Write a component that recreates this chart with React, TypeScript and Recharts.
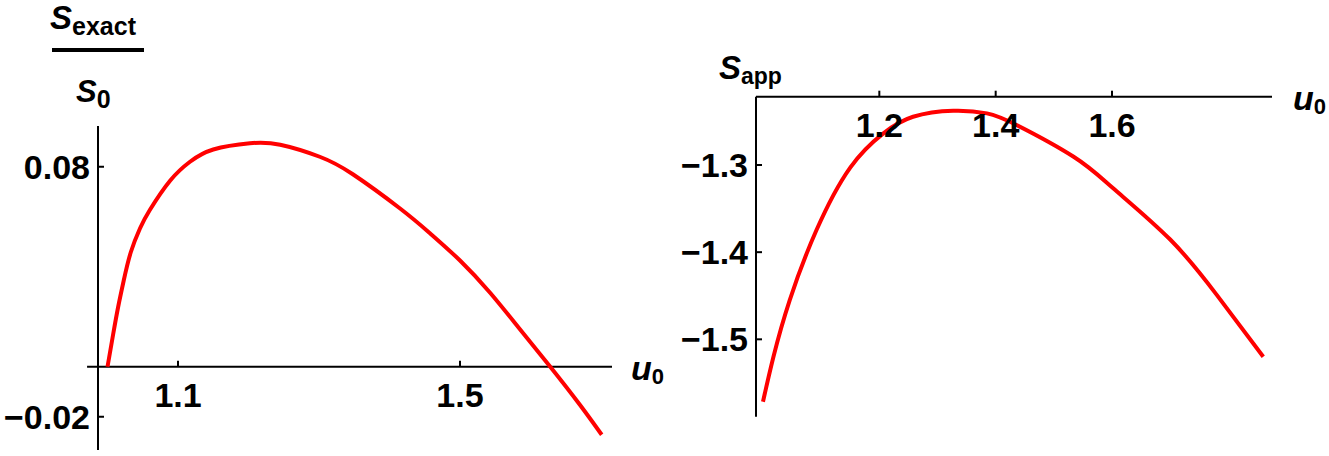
import React from 'react';
import { LineChart, Line, XAxis, YAxis, ReferenceLine, ReferenceDot } from 'recharts';

// Left panel: S_exact / S_0 versus u_0
const leftU = [1.000, 1.008, 1.015, 1.023, 1.033, 1.046, 1.060, 1.089, 1.117, 1.150, 1.202, 1.245, 1.301, 1.348, 1.415, 1.457, 1.500, 1.543, 1.585, 1.628, 1.670, 1.701];
const leftS = [0, 0.0130, 0.0238, 0.0345, 0.0458, 0.0553, 0.0627, 0.0745, 0.0820, 0.0869, 0.0894, 0.0888, 0.0840, 0.0770, 0.0633, 0.0535, 0.0425, 0.0295, 0.0150, 0.0, -0.0152, -0.0272];
const leftXTicks = [1.1, 1.5];
const leftYTicks = [-0.02, 0.08];
const leftXDomain = [0.9865, 1.7156];
const leftYDomain = [-0.0333, 0.0963];
const leftAxisStart = 0.971;

// Right panel: S_app versus u_0
const rightU = [1.000, 1.018, 1.046, 1.092, 1.150, 1.207, 1.258, 1.327, 1.385, 1.436, 1.534, 1.602, 1.700, 1.780, 1.860];
const rightS = [-1.5716, -1.5200, -1.4549, -1.3746, -1.3029, -1.2636, -1.2446, -1.2377, -1.2407, -1.2541, -1.2905, -1.3267, -1.3855, -1.4490, -1.5200];
const rightXTicks = [1.2, 1.4, 1.6];
const rightYTicks = [-1.5, -1.4, -1.3];
const rightXDomain = [0.988, 1.875];
const rightYDomain = [-1.5888, -1.2216];

const leftData = leftU.map((u, i) => ({ u, s: leftS[i] }));
const rightData = rightU.map((u, i) => ({ u, s: rightS[i] }));

const FONT = '"Liberation Sans", Arial, sans-serif';
const tickStyle = { fontSize: 34, fontWeight: 700, fill: '#000', fontFamily: FONT };
const fmt = (d: number) => (v: number) => v.toFixed(d).replace('-', '\u2212');

const XTickShape = (props: any) => {
  const { cx, cy, label } = props;
  return (
    <g>
      <line x1={cx} y1={cy} x2={cx} y2={cy - 6} stroke="#000" strokeWidth={2} />
      <text x={cx} y={cy + 40} textAnchor="middle" style={tickStyle}>{label}</text>
    </g>
  );
};

const TopTick = (props: any) => {
  const { x, y, payload } = props;
  return (
    <text x={x} y={y + 48} textAnchor="middle" style={tickStyle}>{fmt(1)(payload.value)}</text>
  );
};

export default function App() {
  return (
    <div style={{ position: 'absolute', left: 0, top: 0, width: 1329, height: 456, background: '#fff', overflow: 'hidden' }}>
      <div style={{ position: 'absolute', left: 0, top: 0 }}>
        <LineChart width={640} height={456} data={leftData} margin={{ top: 126, right: 28, bottom: 6, left: 0 }}>
          <XAxis dataKey="u" type="number" domain={leftXDomain} allowDataOverflow hide />
          <YAxis
            type="number"
            domain={leftYDomain}
            allowDataOverflow
            ticks={leftYTicks}
            tickFormatter={fmt(2)}
            width={98}
            tickSize={-6}
            tickMargin={14}
            axisLine={{ stroke: '#000', strokeWidth: 2 }}
            tickLine={{ stroke: '#000', strokeWidth: 2 }}
            tick={tickStyle}
          />
          <ReferenceLine
            segment={[{ x: leftAxisStart, y: 0 }, { x: leftXDomain[1], y: 0 }]}
            ifOverflow="visible"
            stroke="#000"
            strokeWidth={2}
          />
          {leftXTicks.map((t) => (
            <ReferenceDot key={t} x={t} y={0} r={1} ifOverflow="visible"
              shape={(p: any) => <XTickShape {...p} label={t.toFixed(1)} />} />
          ))}
          <Line dataKey="s" type="natural" stroke="#ff0000" strokeWidth={4} dot={false} isAnimationActive={false} />
        </LineChart>
      </div>
      <div style={{ position: 'absolute', left: 640, top: 0 }}>
        <LineChart width={689} height={456} data={rightData} margin={{ top: 66.7, right: 57, bottom: 39.3, left: 16 }}>
          <XAxis
            dataKey="u"
            type="number"
            orientation="top"
            domain={rightXDomain}
            allowDataOverflow
            ticks={rightXTicks}
            height={30}
            tickSize={6}
            tickMargin={2}
            axisLine={{ stroke: '#000', strokeWidth: 2 }}
            tickLine={{ stroke: '#000', strokeWidth: 2 }}
            tick={<TopTick />}
          />
          <YAxis
            type="number"
            domain={rightYDomain}
            allowDataOverflow
            ticks={rightYTicks}
            tickFormatter={fmt(1)}
            width={100}
            tickSize={-6}
            tickMargin={14}
            axisLine={{ stroke: '#000', strokeWidth: 2 }}
            tickLine={{ stroke: '#000', strokeWidth: 2 }}
            tick={tickStyle}
          />
          <Line dataKey="s" type="natural" stroke="#ff0000" strokeWidth={4} dot={false} isAnimationActive={false} />
        </LineChart>
      </div>
      <svg width={1329} height={456} style={{ position: 'absolute', left: 0, top: 0, pointerEvents: 'none' }}>
        <g style={{ fontFamily: FONT, fontWeight: 700, fill: '#000' }}>
          <text x={50} y={28.5} fontSize={33} fontStyle="italic">S<tspan fontSize={25} fontStyle="normal" dy={6.5}>exact</tspan></text>
          <rect x={52} y={48} width={92} height={4} fill="#000" />
          <text x={76} y={101.7} fontSize={31} fontStyle="italic">S<tspan fontSize={25} fontStyle="normal" dy={6}>0</tspan></text>
          <text x={631} y={380} fontSize={34} fontStyle="italic">u<tspan fontSize={22} fontStyle="normal" dy={4}>0</tspan></text>
          <text x={719} y={79} fontSize={33} fontStyle="italic">S<tspan fontSize={23} fontStyle="normal" dy={5}>app</tspan></text>
          <text x={1293} y={110} fontSize={34} fontStyle="italic">u<tspan fontSize={22} fontStyle="normal" dy={4}>0</tspan></text>
        </g>
      </svg>
    </div>
  );
}
